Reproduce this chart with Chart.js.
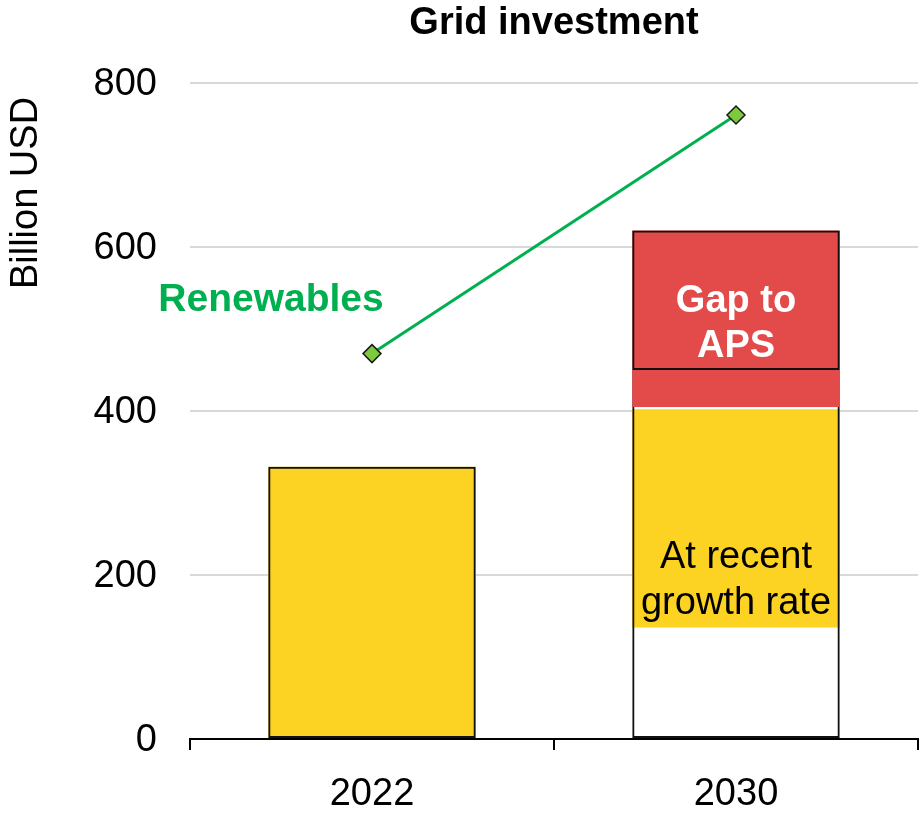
<!DOCTYPE html>
<html lang="en">
<head>
  <meta charset="UTF-8" />
  <title>Grid investment</title>
  <script src="https://cdn.jsdelivr.net/npm/chart.js"></script>
  <style>
    html, body { margin: 0; padding: 0; background: #fff; overflow: hidden; }
    #wrap { width: 924px; height: 818px; }
    canvas { display: block; }
  </style>
</head>
<body>
  <div id="wrap"><canvas id="gridChart" width="924" height="818"></canvas></div>

  <script>
    // values (billion USD)
    const years = ['2022', '2030'];
    const recentGrowth = [[0, 332], [136, 402]];   // yellow segment
    const gapToAps = [null, [405, 620]];            // red segment
    const outlineLower = [[0, 332], [0, 450]];
    const outlineUpper = [null, [450, 620]];
    const renewables = [470, 761];
    const yTicks = [0, 200, 400, 600, 800];

    const FONT = 'Liberation Sans, Arial, sans-serif';

    const labelsPlugin = {
      id: 'labels',
      afterDatasetsDraw(chart) {
        const { ctx, scales: { x, y }, chartArea } = chart;
        ctx.save();
        ctx.textAlign = 'center';
        ctx.textBaseline = 'middle';

        // title
        ctx.fillStyle = '#000';
        ctx.font = 'bold 38px ' + FONT;
        ctx.fillText('Grid investment', (chartArea.left + chartArea.right) / 2, 24);

        // y axis title, sitting high on the axis
        ctx.save();
        ctx.translate(27, 193);
        ctx.rotate(-Math.PI / 2);
        ctx.font = '38px ' + FONT;
        ctx.fillText('Billion USD', 0, 0);
        ctx.restore();

        // renewables label
        ctx.fillStyle = '#00B050';
        ctx.font = 'bold 39px ' + FONT;
        ctx.fillText('Renewables', x.getPixelForValue(0) - 101, 300);

        // gap label
        const cx = x.getPixelForValue(1);
        ctx.fillStyle = '#fff';
        ctx.font = 'bold 38px ' + FONT;
        ctx.fillText('Gap to', cx, y.getPixelForValue(533));
        ctx.fillText('APS', cx, y.getPixelForValue(479));

        // growth label
        ctx.fillStyle = '#000';
        ctx.font = '38px ' + FONT;
        ctx.fillText('At recent', cx, y.getPixelForValue(221));
        ctx.fillText('growth rate', cx, y.getPixelForValue(165));
        ctx.restore();
      }
    };

    new Chart(document.getElementById('gridChart'), {
      data: {
        labels: years,
        datasets: [
          {
            type: 'line', label: 'Renewables', data: renewables, order: 1,
            borderColor: '#00B050', borderWidth: 3,
            pointStyle: 'rectRot', pointRadius: 9,
            pointBackgroundColor: '#7DCB3C', pointBorderColor: '#1a1a1a', pointBorderWidth: 1.5
          },
          {
            type: 'bar', label: 'outline upper', data: outlineUpper, order: 2, grouped: false,
            backgroundColor: 'rgba(0,0,0,0)', borderColor: '#111', borderWidth: 2, borderSkipped: false
          },
          {
            type: 'bar', label: 'Gap to APS', data: gapToAps, order: 3, grouped: false,
            backgroundColor: '#E34A4A', borderWidth: 0
          },
          {
            type: 'bar', label: 'outline lower', data: outlineLower, order: 4, grouped: false,
            backgroundColor: 'rgba(0,0,0,0)', borderColor: '#111', borderWidth: 2, borderSkipped: false
          },
          {
            type: 'bar', label: 'At recent growth rate', data: recentGrowth, order: 5, grouped: false,
            backgroundColor: '#FCD223', borderWidth: 0
          }
        ]
      },
      options: {
        responsive: false,
        animation: false,
        layout: { autoPadding: false, padding: { top: 83, right: 6, left: 0, bottom: 0 } },
        datasets: { bar: { categoryPercentage: 1, barPercentage: 0.57 } },
        plugins: { legend: { display: false }, tooltip: { enabled: false } },
        scales: {
          x: {
            grid: { display: true, drawOnChartArea: false, drawTicks: true, tickLength: 11, color: '#000', lineWidth: 2 },
            border: { display: true, color: '#000', width: 2 },
            ticks: { color: '#000', font: { family: FONT, size: 38 }, padding: 22 },
            afterFit(scale) { scale.height = 79; scale.paddingLeft = 0; scale.paddingRight = 0; }
          },
          y: {
            min: 0, max: 800,
            afterBuildTicks(scale) { scale.ticks = yTicks.map(v => ({ value: v })); },
            grid: { color: '#d9d9d9', lineWidth: 2, drawTicks: false },
            border: { display: false },
            ticks: { color: '#000', font: { family: FONT, size: 38 }, padding: 33, labelOffset: 2 },
            afterFit(scale) { scale.width = 190; }
          }
        }
      },
      plugins: [labelsPlugin]
    });
  </script>
</body>
</html>
